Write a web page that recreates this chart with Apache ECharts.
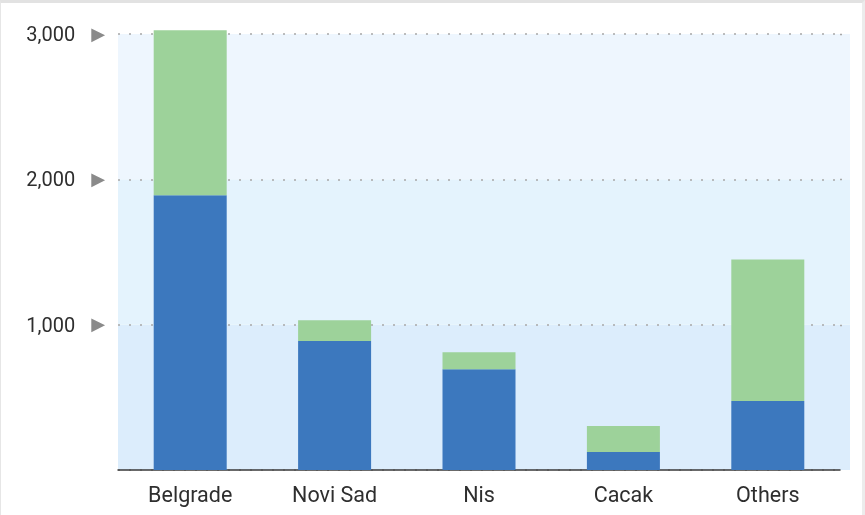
<!DOCTYPE html>
<html>
<head>
<meta charset="utf-8">
<script src="https://cdn.jsdelivr.net/npm/echarts@6/dist/echarts.min.js"></script>
<style>
  html, body { margin: 0; padding: 0; background: #fff; }
  #frame {
    position: absolute; left: 0; top: 0;
    width: 861px; height: 512px;
    border-top: 3px solid #e2e2e2;
    border-left: 1px solid #e6e6e6;
    border-right: 3px solid #ececec;
  }
  #chart { position: absolute; left: 0; top: 0; width: 865px; height: 515px; }
</style>
</head>
<body>
<div id="frame"></div>
<div id="chart"></div>
<script>
  // data
  var cities = ['Belgrade', 'Novi Sad', 'Nis', 'Cacak', 'Others'];
  var blueValues = [1891, 888, 693, 124, 475];
  var greenValues = [1134, 143, 117, 179, 973];
  var yTicks = [0, 1000, 2000, 3000];

  var bandColors = ['#dcedfc', '#e4f3fd', '#eef6fe'];

  var myChart = echarts.init(document.getElementById('chart'));
  myChart.setOption({
    animation: false,
    textStyle: { fontFamily: 'Roboto' },
    grid: { left: 118, right: 25, top: 34, bottom: 45, containLabel: false },
    xAxis: {
      type: 'category',
      data: cities,
      axisTick: { show: false },
      axisLine: { lineStyle: { color: '#3a3a3a', width: 1.5 } },
      axisLabel: { color: '#2e2e2e', fontSize: 21.5, margin: 16, fontFamily: 'Roboto' }
    },
    yAxis: {
      type: 'value',
      min: yTicks[0],
      max: yTicks[yTicks.length - 1],
      interval: 1000,
      axisLine: { show: false },
      axisTick: { show: false },
      axisLabel: {
        margin: 13,
        formatter: function (v) {
          if (v === 0) return '';
          return '{v|' + v.toLocaleString('en-US') + '}{t|▶}';
        },
        rich: {
          v: { color: '#2e2e2e', fontSize: 20, fontFamily: 'Roboto', padding: [4, 16, 0, 0] },
          t: { color: '#8a8a8a', fontSize: 18, fontFamily: 'DejaVu Sans', padding: [2, 0, 0, 0] }
        }
      },
      splitLine: { lineStyle: { color: '#a8a8a8', type: [2, 9], width: 1.5 } },
      splitArea: { show: true, areaStyle: { color: bandColors } }
    },
    series: [
      {
        name: 'blue',
        type: 'bar',
        stack: 'total',
        barWidth: 73,
        clip: false,
        itemStyle: { color: '#3c78be' },
        data: blueValues
      },
      {
        name: 'green',
        type: 'bar',
        stack: 'total',
        barWidth: 73,
        clip: false,
        itemStyle: { color: '#9dd29a' },
        data: greenValues
      }
    ]
  });

  // background bands and dotted lines run a bit past the axis on the right
  var xr = 840, ext = 10;
  var extra = [];
  for (var i = 0; i < yTicks.length - 1; i++) {
    var y0 = myChart.convertToPixel({ yAxisIndex: 0 }, yTicks[i]);
    var y1 = myChart.convertToPixel({ yAxisIndex: 0 }, yTicks[i + 1]);
    extra.push({
      type: 'rect', z: -1,
      shape: { x: xr, y: y1, width: ext, height: y0 - y1 },
      style: { fill: bandColors[i] }
    });
  }
  for (var j = 1; j < yTicks.length; j++) {
    var yy = Math.round(myChart.convertToPixel({ yAxisIndex: 0 }, yTicks[j])) + 0.5;
    extra.push({
      type: 'line', z: 1,
      shape: { x1: xr, y1: yy, x2: xr + ext, y2: yy },
      style: { stroke: '#a8a8a8', lineWidth: 1.5, lineDash: [2, 9] }
    });
  }
  myChart.setOption({ graphic: extra });
</script>
</body>
</html>
